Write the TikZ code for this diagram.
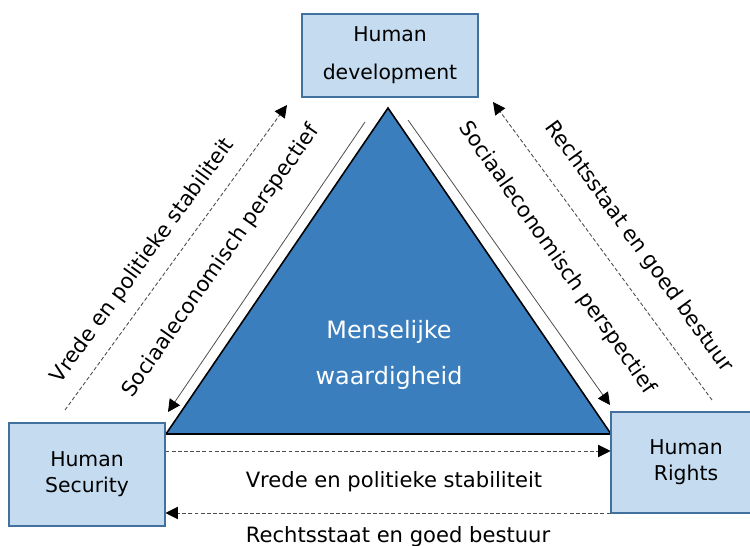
\documentclass[tikz,border=0pt]{standalone}
\usepackage{fontspec}
\setmainfont{DejaVu Sans}
\usetikzlibrary{arrows.meta}
\definecolor{boxfill}{HTML}{C5DCF0}
\definecolor{boxline}{HTML}{41719C}
\definecolor{triblue}{HTML}{3A7EBE}
\begin{document}
\begin{tikzpicture}[x=0.02cm,y=-0.02cm,
    box/.style={draw=boxline,fill=boxfill,line width=0.6pt,align=center,inner sep=0pt},
    lbl/.style={font=\fontsize{12}{14}\selectfont,inner sep=0pt},
    solidarrow/.style={draw=black!70,line width=0.45pt,-{Triangle[length=7pt,width=7pt,color=black]}},
    dasharrow/.style={draw=black!70,line width=0.5pt,dash pattern=on 2.2pt off 1.3pt,-{Triangle[length=7pt,width=7pt,color=black]}}]
       \useasboundingbox (0,0) rectangle (750,546);

       %driehoek
       \filldraw[fill=triblue,draw=black,line width=0.9pt] (388,108) -- (611,434) -- (166,434) -- cycle;
       \node (mw) at (389,355) [align=center,text=white,font=\fontsize{13.6}{26}\selectfont]{Menselijke\\waardigheid};

       %kaders
       \node (hd) at (390,55.5) [box,minimum width=3.52cm,minimum height=1.66cm,font=\fontsize{11.6}{21.5}\selectfont]{Human\\development};
       \node (hs) at (87,474.5) [box,minimum width=3.12cm,minimum height=2.06cm,font=\fontsize{11.6}{14.7}\selectfont]{Human\\Security};
       \node (hr) at (686,462.5) [box,minimum width=3.0cm,minimum height=2.02cm,font=\fontsize{11.6}{14.7}\selectfont]{Human\\Rights};

       %pijlen
       \coordinate (ls1) at (365,122);  \coordinate (ls2) at (168,412);
       \coordinate (ld1) at (65,410);   \coordinate (ld2) at (287,105);
       \coordinate (rs1) at (408,120);  \coordinate (rs2) at (610,405);
       \coordinate (rd1) at (712,400);  \coordinate (rd2) at (493,102);
       \coordinate (vr) at (0,451);
       \coordinate (rb) at (0,513);

       \draw[solidarrow] (ls1) -- (ls2);
       \draw[dasharrow] (ld1) -- (ld2);
       \draw[solidarrow] (rs1) -- (rs2);
       \draw[dasharrow] (rd1) -- (rd2);
       \draw[dasharrow] (hs.east |- vr) -- (hr.west |- vr);
       \draw[dasharrow] (hr.west |- rb) -- (hs.east |- rb);

       %teksten
       \node (lv) at (143,261) [lbl,rotate=54]{Vrede en politieke stabiliteit};
       \node (ls) at (221,261) [lbl,rotate=55]{Sociaaleconomisch perspectief};
       \node (rs) at (557,258) [lbl,rotate=-55]{Sociaaleconomisch perspectief};
       \node (rr) at (639,247) [lbl,rotate=-54]{Rechtsstaat en goed bestuur};
       \node (bv) at (394,482) [lbl]{Vrede en politieke stabiliteit};
       \node (br) at (398,537) [lbl]{Rechtsstaat en goed bestuur};

\end{tikzpicture}
\end{document}
